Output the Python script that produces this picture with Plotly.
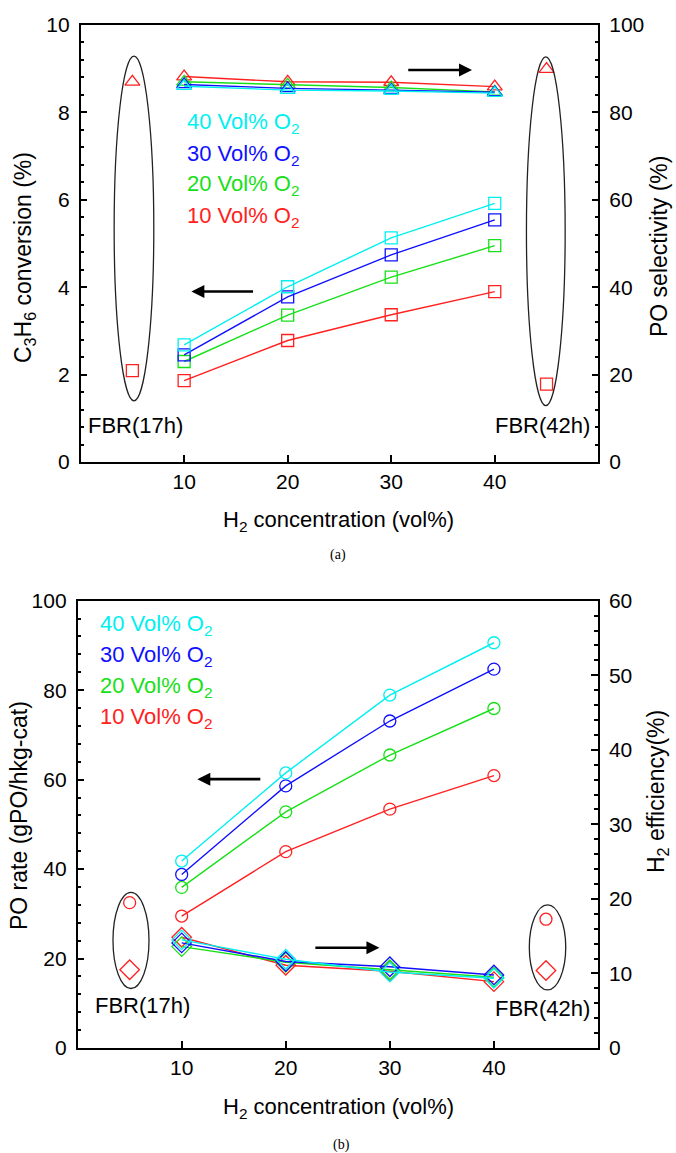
import plotly.graph_objects as go

# ---------------- data ----------------
h2_conc = [10, 20, 30, 40]
fbr_x = [5, 45]
o2_labels = ["10", "20", "30", "40"]

# (a) C3H6 conversion (%)  - left axis
conv_10 = [1.86, 2.78, 3.37, 3.90]
conv_20 = [2.30, 3.36, 4.23, 4.95]
conv_30 = [2.45, 3.78, 4.74, 5.54]
conv_40 = [2.68, 4.01, 5.13, 5.92]
# (a) PO selectivity (%) - right axis
sel_10 = [88.2, 87.0, 86.9, 85.9]
sel_20 = [87.0, 86.3, 85.7, 84.7]
sel_30 = [86.4, 85.5, 85.1, 84.6]
sel_40 = [86.0, 85.1, 84.9, 84.4]
fbr_conv = [2.09, 1.78]
fbr_sel = [87.0, 89.9]

# (b) PO rate (gPO/hkg-cat) - left axis
rate_10 = [29.5, 43.9, 53.4, 60.9]
rate_20 = [35.9, 52.8, 65.5, 75.9]
rate_30 = [38.8, 58.6, 73.1, 84.7]
rate_40 = [41.8, 61.5, 78.9, 90.6]
# (b) H2 efficiency (%) - right axis
eff_10 = [14.85, 11.1, 10.3, 8.9]
eff_20 = [13.6, 11.5, 10.5, 9.5]
eff_30 = [14.1, 11.6, 10.9, 9.8]
eff_40 = [14.5, 11.9, 10.2, 9.35]
fbr_rate = [32.5, 28.8]
fbr_eff = [10.5, 10.4]

# ---------------- style ----------------
RED = "#ff2020"
GREEN = "#18e018"
BLUE = "#1010ff"
CYAN = "#00f0f0"
colors = [RED, GREEN, BLUE, CYAN]
FONT = "Liberation Sans, Arial, sans-serif"
W, H = 676, 1153

conv = [conv_10, conv_20, conv_30, conv_40]
sel = [sel_10, sel_20, sel_30, sel_40]
rate = [rate_10, rate_20, rate_30, rate_40]
eff = [eff_10, eff_20, eff_30, eff_40]

fig = go.Figure()


def series(x, y, color, symbol, size, xa, ya, mode="lines+markers"):
    fig.add_trace(go.Scatter(
        x=x, y=y, mode=mode, xaxis=xa, yaxis=ya,
        line=dict(color=color, width=1.4),
        marker=dict(symbol=symbol, size=size, color=color,
                    line=dict(color=color, width=1.3)),
        showlegend=False, cliponaxis=False))


for c, yv in zip(colors, sel):
    series(h2_conc, yv, c, "triangle-up-open", 13, "x", "y2")
for c, yv in zip(colors, conv):
    series(h2_conc, yv, c, "square-open", 12, "x", "y")
series(fbr_x, fbr_conv, RED, "square-open", 12, "x", "y", "markers")
series(fbr_x, fbr_sel, RED, "triangle-up-open", 13, "x", "y2", "markers")

for c, yv in zip(colors, rate):
    series(h2_conc, yv, c, "circle-open", 12, "x2", "y3")
for c, yv in zip(colors, eff):
    series(h2_conc, yv, c, "diamond-open", 15, "x2", "y4")
series(fbr_x, fbr_rate, RED, "circle-open", 12, "x2", "y3", "markers")
series(fbr_x, fbr_eff, RED, "diamond-open", 15, "x2", "y4", "markers")

# ---------------- axes ----------------
tickfont = dict(family=FONT, size=21, color="black")
common = dict(showgrid=False, zeroline=False, showline=True, linecolor="black",
              linewidth=1.5, ticks="inside", ticklen=7, tickwidth=1.5,
              tickcolor="black", tickfont=tickfont, fixedrange=True,
              automargin=False)
ycommon = dict(common, ticklabelstandoff=5)
xcommon = dict(common, ticklabelstandoff=0)

dom_a_x = [80.6 / W, 598.3 / W]
dom_a_y = [1 - 462 / H, 1 - 25 / H]
dom_b_x = [77.6 / W, 598 / W]
dom_b_y = [1 - 1048 / H, 1 - 600.7 / H]

fig.update_layout(
    template="none",
    width=W, height=H, margin=dict(l=0, r=0, t=0, b=0, pad=0),
    paper_bgcolor="white", plot_bgcolor="white",
    font=dict(family=FONT, color="black"),
    xaxis=dict(xcommon, domain=dom_a_x, anchor="y", range=[0, 50],
               tickvals=h2_conc, mirror=True),
    yaxis=dict(ycommon, domain=dom_a_y, anchor="x", range=[0, 10], dtick=2,
               minor=dict(dtick=0.4, ticks="inside", ticklen=4, tickcolor="black")),
    yaxis2=dict(ycommon, overlaying="y", side="right", anchor="x", range=[0, 100],
                dtick=20,
                minor=dict(dtick=4, ticks="inside", ticklen=4, tickcolor="black")),
    xaxis2=dict(xcommon, domain=dom_b_x, anchor="y3", range=[0, 50],
                tickvals=h2_conc, mirror=True),
    yaxis3=dict(ycommon, domain=dom_b_y, anchor="x2", range=[0, 100], dtick=20,
                minor=dict(dtick=4, ticks="inside", ticklen=4, tickcolor="black")),
    yaxis4=dict(ycommon, overlaying="y3", side="right", anchor="x2", range=[0, 60],
                dtick=10,
                minor=dict(dtick=2, ticks="inside", ticklen=4, tickcolor="black")),
)

# ---------------- ellipses ----------------
ell = dict(type="circle", line=dict(color="#222222", width=1.3), layer="above")
fig.add_shape(ell, xref="x", yref="y", x0=3.24, x1=7.07, y0=1.40, y1=9.29)
fig.add_shape(ell, xref="x", yref="y", x0=43.06, x1=46.8, y0=1.29, y1=9.27)
fig.add_shape(ell, xref="x2", yref="y3", x0=3.4, x1=6.86, y0=13.3, y1=34.8)
fig.add_shape(ell, xref="x2", yref="y3", x0=43.4, x1=46.9, y0=13.0, y1=32.0)

# ---------------- arrows ----------------
def arrow(xa, ya, x_tail, x_head, y):
    fig.add_annotation(x=x_head, y=y, ax=x_tail, ay=y, xref=xa, yref=ya,
                       axref=xa, ayref=ya, text="", showarrow=True,
                       arrowhead=2, arrowsize=1.0, arrowwidth=2.6,
                       arrowcolor="black")

arrow("x", "y", 31.5, 37.8, 8.97)
arrow("x", "y", 16.8, 10.7, 3.90)
arrow("x2", "y3", 17.7, 11.5, 60.1)
arrow("x2", "y3", 22.7, 29.0, 22.4)

# ---------------- text ----------------
def txt(xa, ya, x, y, s, color="black", xanchor="center", size=22):
    fig.add_annotation(x=x, y=y, xref=xa, yref=ya, text=s, showarrow=False,
                       xanchor=xanchor, yanchor="middle",
                       font=dict(family=FONT, size=size, color=color))

leg_a_y = [5.60, 6.33, 7.02, 7.75]
leg_b_y = [73.7, 80.7, 87.6, 94.6]
for lab, c, ya_, yb_ in zip(o2_labels, colors, leg_a_y, leg_b_y):
    s = f"{lab} Vol% O<sub>2</sub>"
    txt("x", "y", 10.1, ya_, s, c, "left", 22)
    txt("x2", "y3", 2.0, yb_, s, c, "left", 22)

txt("x", "y", 5.3, 0.83, "FBR(17h)")
txt("x", "y", 44.6, 0.83, "FBR(42h)")
txt("x2", "y3", 6.2, 9.6, "FBR(17h)")
txt("x2", "y3", 44.7, 8.9, "FBR(42h)")


def ptxt(xp, yp, s, angle=0, size=22, family=FONT):
    fig.add_annotation(x=xp / W, y=1 - yp / H, xref="paper", yref="paper",
                       text=s, showarrow=False, textangle=angle,
                       xanchor="center", yanchor="middle",
                       font=dict(family=family, size=size, color="black"))

ptxt(339, 521, "H<sub>2</sub> concentration (vol%)")
ptxt(339, 1108, "H<sub>2</sub> concentration (vol%)")
ptxt(24, 258, "C<sub>3</sub>H<sub>6</sub> conversion (%)", -90, 23)
ptxt(659, 247, "PO selectivity (%)", -90, 23)
ptxt(19, 816, "PO rate (gPO/hkg-cat)", -90, 23)
ptxt(657, 792, "H<sub>2</sub> efficiency(%)", -90, 23)
ptxt(338, 555, "(a)", 0, 14, "Liberation Serif, serif")
ptxt(341, 1145, "(b)", 0, 14, "Liberation Serif, serif")

fig.write_html("out.html",
               config={"displayModeBar": False},
               post_script="document.body.style.margin='0';"
                           "document.body.style.padding='0';")
